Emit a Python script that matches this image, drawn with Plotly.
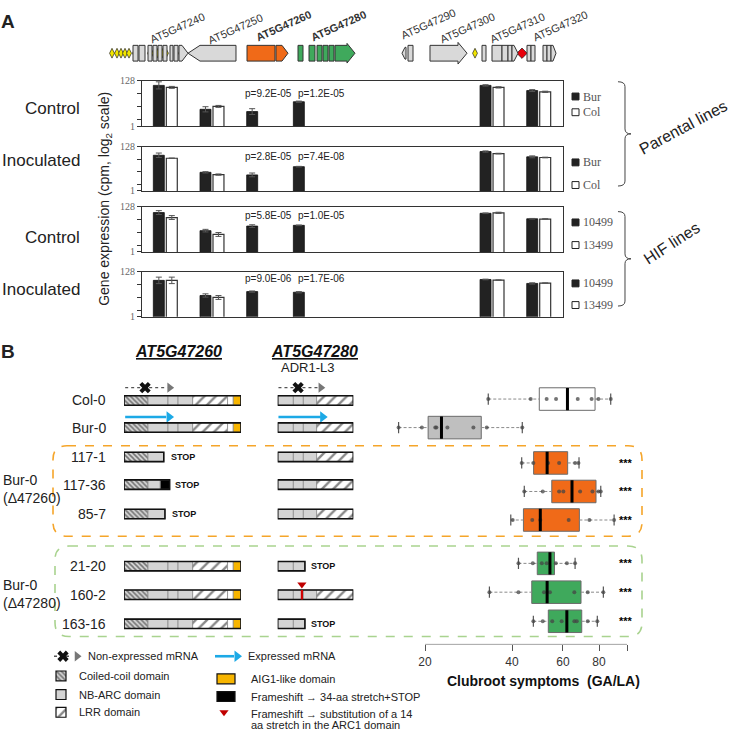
import math
import plotly.graph_objects as go

W, H = 733, 737
def px(x): return x / W
def py(y): return 1 - y / H
def P(s):
    out = []
    for tok in s.split():
        if ',' in tok:
            a, b = tok.split(',')
            out.append(f"{px(float(a)):.5f},{py(float(b)):.5f}")
        else:
            out.append(tok)
    return ' '.join(out)

SANS = "Liberation Sans, Arial, Helvetica, sans-serif"
NARROW = "Liberation Sans Narrow, Arial Narrow, Liberation Sans, Arial, sans-serif"
SERIF = "Liberation Serif, Times New Roman, serif"
ORANGE = "#f06a18"
GREEN = "#3fa95c"
LGREY = "#d9d9d9"
GOLD = "#f7b500"
BLUE = "#1ca9e6"

# ================= Panel A data =================
bar_genes = ["AT5G47240", "AT5G47250", "AT5G47260", "AT5G47280", "AT5G47310", "AT5G47320"]
bar_slot = [1, 2, 3, 4, 8, 9]          # position of each gene along the locus (slot)

par_ctrl_bur = [78, 6.0, 4.7, 13.5, 78, 44.6]
par_ctrl_col = [63, 8.2, None, None, 63, 39]
par_inoc_bur = [50, 7.7, 5.8, 14.3, 75, 42]
par_inoc_col = [36, 6.0, None, None, 60, 39]
hif_ctrl_10499 = [68, 9.8, 16, 17.3, 63, 35]
hif_ctrl_13499 = [40, 6.5, None, None, 66, 34]
hif_inoc_10499 = [50, 9.9, 15, 14, 55, 36]
hif_inoc_13499 = [50, 8.0, None, None, 51, 37]
# standard errors (in log2 units)
par_ctrl_bur_se = [0.55, 0.4, 0.45, 0.1, 0.1, 0.15]
par_ctrl_col_se = [0.15, 0.15, 0, 0, 0.1, 0.1]
par_inoc_bur_se = [0.35, 0.1, 0.3, 0.05, 0.1, 0.15]
par_inoc_col_se = [0.02, 0.1, 0, 0, 0.05, 0.05]
hif_ctrl_10499_se = [0.3, 0.2, 0.2, 0.05, 0.05, 0.05]
hif_ctrl_13499_se = [0.3, 0.3, 0, 0, 0.1, 0.05]
hif_inoc_10499_se = [0.5, 0.25, 0.1, 0.1, 0.05, 0.1]
hif_inoc_13499_se = [0.5, 0.3, 0, 0, 0.05, 0.05]

panel_condition = ["Control", "Inoculated", "Control", "Inoculated"]
panel_lines = [("Bur", "Col"), ("Bur", "Col"), ("10499", "13499"), ("10499", "13499")]
panel_pvalues = [("p=9.2E-05", "p=1.2E-05"), ("p=2.8E-05", "p=7.4E-08"),
                 ("p=5.8E-05", "p=1.0E-05"), ("p=9.0E-06", "p=1.7E-06")]
dark_series = [par_ctrl_bur, par_inoc_bur, hif_ctrl_10499, hif_inoc_10499]
light_series = [par_ctrl_col, par_inoc_col, hif_ctrl_13499, hif_inoc_13499]
dark_se = [par_ctrl_bur_se, par_inoc_bur_se, hif_ctrl_10499_se, hif_inoc_10499_se]
light_se = [par_ctrl_col_se, par_inoc_col_se, hif_ctrl_13499_se, hif_inoc_13499_se]
y_ticks = [1, 128]
y_minor_ticks = [2, 8, 32]

# ================= Panel B data =================
lines_B = ["Col-0", "Bur-0", "117-1", "117-36", "85-7", "21-20", "160-2", "163-16"]
gene_row = [0, 0.95, 1.98, 2.95, 3.98, 5.81, 6.81, 7.83]
box_row = [-0.05, 0.95, 2.19, 3.19, 4.19, 5.71, 6.72, 7.74]
box_min = [33.1, 16.2, 43.2, 44.1, 39.6, 42.1, 33.4, 47.4]
box_q1 = [49.7, 20.5, 47.5, 54.9, 43.8, 48.9, 46.8, 53.4]
box_med = [62.2, 22.8, 52.9, 64.5, 50.1, 54.1, 52.9, 61.9]
box_q3 = [77.5, 31.3, 62.3, 78.1, 68.4, 56.1, 69.3, 69.7]
box_max = [87.8, 43.4, 68.2, 81.1, 90.2, 66.1, 82.8, 78.9]
pts_col0 = [33.1, 46.4, 52.7, 56.8, 67.5, 75.4, 79.6, 87.8]
pts_bur0 = [16.2, 19.5, 21.7, 21.9, 23.9, 29.4, 32.7, 43.4]
pts_117_1 = [43.2, 47.4, 53.3, 58.2, 66.1, 67.9]
pts_117_36 = [44.1, 51.1, 58.2, 60.2, 68.8, 75.9, 79.6, 81.1]
pts_85_7 = [40.2, 47.0, 50.1, 62.8, 74.1, 90.2]
pts_21_20 = [42.1, 47.2, 50.7, 52.7, 56.7, 61.9, 66.1]
pts_160_2 = [33.4, 42.1, 51.6, 54.1, 65.7, 73.1, 82.8]
pts_163_16 = [47.4, 51.1, 55.1, 59.4, 65.7, 67.0, 73.1, 78.9]
box_points = [pts_col0, pts_bur0, pts_117_1, pts_117_36, pts_85_7, pts_21_20, pts_160_2, pts_163_16]
box_fill = ["#ffffff", "#bfbfbf", ORANGE, ORANGE, ORANGE, GREEN, GREEN, GREEN]
signif = ["", "", "***", "***", "***", "***", "***", "***"]
box_ticks = [20, 40, 60, 80]
box_axis_end = 100

# protein domain structures (fraction of full-length protein)
dom260_full = [(0, 0.205, "cc"), (0.205, 0.376, "nb"), (0.376, 0.462, "nb"), (0.462, 0.587, "nb"),
               (0.587, 0.885, "lrr"), (0.885, 0.934, "linker"), (0.934, 1.0, "aig")]
dom260_117_1 = [(0, 0.205, "cc"), (0.205, 0.34, "nb")]
dom260_117_36 = [(0, 0.205, "cc"), (0.205, 0.31, "nb"), (0.31, 0.39, "fs")]
dom260_85_7 = [(0, 0.205, "cc"), (0.205, 0.35, "nb")]
dom280_full = [(0, 0.207, "nb"), (0.207, 0.339, "nb"), (0.339, 0.515, "nb"), (0.515, 1.0, "lrr")]
dom280_trunc = [(0, 0.207, "nb"), (0.207, 0.36, "nb")]
prot260 = [dom260_full, dom260_full, dom260_117_1, dom260_117_36, dom260_85_7, dom260_full, dom260_full, dom260_full]
prot280 = [dom280_full, dom280_full, dom280_full, dom280_full, dom280_full, dom280_trunc, dom280_full, dom280_trunc]
stop260 = [None, None, 0.385, 0.42, 0.39, None, None, None]
stop280 = [None, None, None, None, None, 0.41, None, 0.41]
subst280_row, subst280_pos = 6, 0.32

# gene map of the locus (positions in figure scale)
gm_rects = [(133, 138, LGREY), (139, 145, LGREY), (148, 152, LGREY), (153, 157, LGREY), (158, 162, LGREY),
            (163, 167, LGREY), (170, 173, LGREY), (174, 178, LGREY), (247, 275, ORANGE),
            (298, 303, GREEN), (309, 315, GREEN), (317, 322, GREEN), (323, 328, GREEN), (329, 334, GREEN),
            (408, 413, LGREY), (482, 486, LGREY), (492, 502, LGREY), (502, 508, LGREY), (508, 512, LGREY),
            (527, 531, LGREY), (531, 535, LGREY), (543, 547, LGREY), (547, 551, LGREY)]
gm_arrows = [(179, 182, 188, 8, LGREY), (236, 200, 188, 8, LGREY), (276, 282, 288, 8, ORANGE),
             (335, 347, 355, 10, GREEN), (406, 405, 402, 6, LGREY), (430, 458, 467, 11, LGREY),
             (512, 514, 518, 8, LGREY), (551, 553, 556, 8, LGREY)]
gm_snp_yellow = [112, 117, 121, 125, 129, 135, 150, 154, 158, 162, 166, 181, 208, 211, 214, 217, 220, 229, 252, 475]
gm_snp_red = [442, 522]
gm_labels = [("AT5G47240", 177, 22, False), ("AT5G47250", 235, 23, False), ("AT5G47260", 283, 20, True),
             ("AT5G47280", 338, 20, True), ("AT5G47290", 428, 18, False), ("AT5G47300", 467, 22, False),
             ("AT5G47310", 517, 22, False), ("AT5G47320", 560, 20, False)]

fig = go.Figure()
layout = {}
shapes = []
ann = []

def A(text, x, y, size=12, color="#222", xanchor="center", yanchor="middle", family=SANS,
      angle=0, xref="paper", yref="paper", **kw):
    ann.append(dict(text=text, x=x, y=y, xref=xref, yref=yref, showarrow=False, xanchor=xanchor,
                    yanchor=yanchor, textangle=angle, font=dict(family=family, size=size, color=color), **kw))

# ---------------- Panel A bars ----------------
panel_top = [76, 143, 204, 270]
panel_bot = [122, 188, 250, 316]
cond_y = [104, 157, 235, 288]
pv_y = [89, 153, 213, 277]
leg_y = [(92, 108), (159, 182), (220, 243), (282, 304)]

def errs(vals, se):
    up = [0 if v is None else v * (2 ** e - 1) for v, e in zip(vals, se)]
    dn = [0 if v is None else v * (1 - 2 ** -e) for v, e in zip(vals, se)]
    return up, dn

for i in range(4):
    sfx = "" if i == 0 else str(i + 1)
    xa, ya = "x" + sfx, "y" + sfx
    for vals, se, off, col, lc, lw in [(dark_series[i], dark_se[i], -0.257, "#222222", "#111111", 0.8),
                                       (light_series[i], light_se[i], 0.021, "#ffffff", "#333333", 1.2)]:
        up, dn = errs(vals, se)
        fig.add_trace(go.Bar(x=bar_slot, y=vals, width=0.235, offset=off,
                             marker=dict(color=col, line=dict(color=lc, width=lw)),
                             error_y=dict(type="data", symmetric=False, array=up, arrayminus=dn,
                                          color="#555", thickness=1, width=3),
                             xaxis=xa, yaxis=ya, hoverinfo="skip"))
    layout["xaxis" + sfx] = dict(domain=[px(142), px(563)], range=[0.5, 9.52], showline=True, mirror=True,
                                 linecolor="#333", linewidth=1, showticklabels=False, ticks="", showgrid=False,
                                 zeroline=False, anchor=ya, fixedrange=True)
    layout["yaxis" + sfx] = dict(domain=[py(panel_bot[i]), py(panel_top[i])], type="log",
                                 range=[0, math.log10(128)], tickvals=y_ticks,
                                 ticks="outside", ticklen=4, tickcolor="#333", showline=True, mirror=True,
                                 minor=dict(tickvals=y_minor_ticks, ticks="outside", ticklen=4, tickcolor="#333",
                                            showgrid=False),
                                 linecolor="#333", linewidth=1, showgrid=False, zeroline=False, anchor=xa,
                                 tickfont=dict(family=SERIF, size=10, color="#666"))
    A(panel_condition[i], px(82), py(cond_y[i]), size=17, xanchor="right")
    A(panel_pvalues[i][0], px(268), py(pv_y[i]), size=10)
    A(panel_pvalues[i][1], px(321), py(pv_y[i]), size=10)
    for j, (fill, lab) in enumerate([("#222", panel_lines[i][0]), ("#fff", panel_lines[i][1])]):
        yy = leg_y[i][j]
        shapes.append(dict(type="rect", xref="paper", yref="paper", x0=px(572), x1=px(579),
                           y0=py(yy + 3.5), y1=py(yy - 3.5), fillcolor=fill, line=dict(color="#222", width=1)))
        A(lab, px(581), py(yy), size=12, family=SERIF, color="#555", xanchor="left")

A("Gene expression (cpm, log<sub>2</sub> scale)", px(105), py(196), size=14, angle=-90)
A("<b>A</b>", px(8), py(16), size=19)
A("<b>B</b>", px(8), py(351), size=19)
A("Parental lines", px(683), py(124), size=16, angle=-28)
A("HIF lines", px(671), py(241), size=16, angle=-33)
shapes.append(dict(type="path", xref="paper", yref="paper", line=dict(color="#444", width=1),
                   path=P("M 618,77 Q 625,77 625,82 L 625,125 Q 625,130 631,130 Q 625,130 625,135 L 625,178 Q 625,183 618,183")))
shapes.append(dict(type="path", xref="paper", yref="paper", line=dict(color="#444", width=1),
                   path=P("M 618,209 Q 625,209 625,214 L 625,252 Q 625,257 631,257 Q 625,257 625,262 L 625,300 Q 625,305 618,305")))

# ---------------- gene map ----------------
GY = 48
for x0, x1, c in gm_rects:
    shapes.append(dict(type="rect", xref="paper", yref="paper", x0=px(x0), x1=px(x1), y0=py(GY + 8),
                       y1=py(GY - 8), fillcolor=c, line=dict(color="#333", width=1)))
for xs, xn, xt, hh, c in gm_arrows:
    bh = 8 if hh >= 8 else 6
    path = (f"M {xs},{GY-bh} L {xn},{GY-bh} L {xn},{GY-hh} L {xt},{GY} L {xn},{GY+hh} "
            f"L {xn},{GY+bh} L {xs},{GY+bh} Z")
    shapes.append(dict(type="path", xref="paper", yref="paper", path=P(path), fillcolor=c,
                       line=dict(color="#333", width=1)))
for name, x, y, bold in gm_labels:
    A(f"<b>{name}</b>" if bold else name, px(x), py(y), size=11, color="#333", angle=-24)

# overlay axis (figure scale) for symbols
layout["xaxis8"] = dict(domain=[0, 1], range=[0, W], visible=False, anchor="y8", fixedrange=True)
layout["yaxis8"] = dict(domain=[0, 1], range=[H, 0], visible=False, anchor="x8", fixedrange=True)

# ---------------- Panel B: protein structures ----------------
layout["yaxis5"] = dict(domain=[py(649), py(375)], range=[8.552, -0.897], visible=False, anchor="x5", fixedrange=True)
layout["xaxis5"] = dict(domain=[px(124), px(241)], range=[0, 1], visible=False, anchor="y5", fixedrange=True)
layout["xaxis6"] = dict(domain=[px(277.7), px(353.3)], range=[0, 1], visible=False, anchor="y5", fixedrange=True)

styles = {
    "cc": dict(color="#d6d6d6", pattern=dict(shape="\\", fgcolor="#111", bgcolor="#d6d6d6", size=3.5, solidity=0.45)),
    "nb": dict(color="#d4d4d4"),
    "lrr": dict(color="#ffffff", pattern=dict(shape="/", fgcolor="#111", bgcolor="#ffffff", size=8, solidity=0.3)),
    "linker": dict(color="#ffffff"),
    "aig": dict(color=GOLD),
    "fs": dict(color="#000000"),
}
TH = 0.33
for prots, xa in [(prot260, "x5"), (prot280, "x6")]:
    for kind, st in styles.items():
        ys, bs, ls = [], [], []
        for k, segs in enumerate(prots):
            for s0, s1, kd in segs:
                if kd == kind:
                    ys.append(gene_row[k]); bs.append(s0); ls.append(s1 - s0)
        if ys:
            fig.add_trace(go.Bar(orientation="h", y=ys, x=ls, base=bs, width=TH,
                                 marker=dict(line=dict(color="#8c8c8c", width=0.8), **st),
                                 xaxis=xa, yaxis="y5", hoverinfo="skip"))
    for k, segs in enumerate(prots):
        end = max(s[1] for s in segs)
        shapes.append(dict(type="rect", xref=xa, yref="y5", x0=0, x1=end, y0=gene_row[k] - TH / 2,
                           y1=gene_row[k] + TH / 2, line=dict(color="#111", width=1.6)))

for k in range(8):
    if stop260[k] is not None:
        A("<b>STOP</b>", stop260[k], gene_row[k], size=9, xanchor="left", xref="x5", yref="y5", color="#111")
    if stop280[k] is not None:
        A("<b>STOP</b>", stop280[k], gene_row[k], size=9, xanchor="left", xref="x6", yref="y5", color="#111")
    A(lines_B[k], px(108), gene_row[k], size=14, xanchor="right", yref="y5")

# substitution mark
shapes.append(dict(type="line", xref="x6", yref="y5", x0=subst280_pos, x1=subst280_pos,
                   y0=gene_row[subst280_row] - TH / 2, y1=gene_row[subst280_row] + TH / 2,
                   line=dict(color="#d00000", width=2.2)))
fig.add_trace(go.Scatter(x=[subst280_pos], y=[gene_row[subst280_row] - 0.36], mode="markers",
                         marker=dict(symbol="triangle-down", size=8, color="#c00000"),
                         xaxis="x6", yaxis="y5", hoverinfo="skip"))

# mRNA expression arrows
for xa, end, xpos, tri in [("x5", 0.37, 0.18, 0.39), ("x6", 0.53, 0.27, 0.57)]:
    yy = gene_row[0] - 0.45
    fig.add_trace(go.Scatter(x=[0.01, end], y=[yy, yy], mode="lines", line=dict(color="#555", width=1.3, dash="dot"),
                             xaxis=xa, yaxis="y5", hoverinfo="skip"))
    fig.add_trace(go.Scatter(x=[tri], y=[yy], mode="markers", marker=dict(symbol="triangle-right", size=9, color="#777"),
                             xaxis=xa, yaxis="y5", hoverinfo="skip"))
    fig.add_trace(go.Scatter(x=[xpos], y=[yy], mode="markers", marker=dict(symbol="x", size=10, color="#111"),
                             xaxis=xa, yaxis="y5", hoverinfo="skip"))
for xa, end in [("x5", 0.42), ("x6", 0.63)]:
    yy = gene_row[1] - 0.37
    fig.add_trace(go.Scatter(x=[0.01, end - 0.06], y=[yy, yy], mode="lines", line=dict(color=BLUE, width=2.6),
                             xaxis=xa, yaxis="y5", hoverinfo="skip"))
    fig.add_trace(go.Scatter(x=[end - 0.035], y=[yy], mode="markers",
                             marker=dict(symbol="triangle-right", size=10, color=BLUE),
                             xaxis=xa, yaxis="y5", hoverinfo="skip"))

A("<b><i><u>AT5G47260</u></i></b>", px(178), py(351), size=16, color="#111")
A("<b><i><u>AT5G47280</u></i></b>", px(314), py(351), size=16, color="#111")
A("ADR1-L3", px(279), py(367), size=13, xanchor="left")
A("Bur-0<br>(Δ47260)", px(1), py(491), size=14, xanchor="left", align="left")
A("Bur-0<br>(Δ47280)", px(1), py(597.5), size=14, xanchor="left", align="left")

def rrect(x0, y0, x1, y1, r):
    return P(f"M {x0+r},{y0} L {x1-r},{y0} Q {x1},{y0} {x1},{y0+r} L {x1},{y1-r} Q {x1},{y1} {x1-r},{y1} "
             f"L {x0+r},{y1} Q {x0},{y1} {x0},{y1-r} L {x0},{y0+r} Q {x0},{y0} {x0+r},{y0} Z")
shapes.append(dict(type="path", xref="paper", yref="paper", path=rrect(53, 447, 642, 539, 14),
                   line=dict(color="#f5a52a", width=1.6, dash="dash"), layer="below"))
shapes.append(dict(type="path", xref="paper", yref="paper", path=rrect(55, 549, 642, 641, 14),
                   line=dict(color="#a9d38f", width=1.6, dash="dash"), layer="below"))

# ---------------- Panel B: box plots ----------------
layout["xaxis7"] = dict(domain=[px(360), px(660)], type="log", range=[1.076, 2.114], anchor="y5",
                        tickvals=box_ticks, ticks="outside", ticklen=6, tickcolor="#555",
                        minor=dict(tickvals=[box_axis_end], ticks="outside", ticklen=6, tickcolor="#555", showgrid=False),
                        showline=False, showgrid=False, zeroline=False, fixedrange=True,
                        tickfont=dict(size=12, color="#333"))
for k in range(8):
    fig.add_trace(go.Box(y=[box_row[k]], q1=[box_q1[k]], median=[box_med[k]], q3=[box_q3[k]],
                         lowerfence=[box_q1[k]], upperfence=[box_q3[k]], orientation="h", width=0.79,
                         fillcolor=box_fill[k], line=dict(color="#6b6b6b", width=1), whiskerwidth=0,
                         boxpoints=False, xaxis="x7", yaxis="y5", hoverinfo="skip"))
wx, wy, cx, cy, mx, my, ptx, pty = [], [], [], [], [], [], [], []
for k in range(8):
    r = box_row[k]
    wx += [box_min[k], box_q1[k], None, box_q3[k], box_max[k], None]
    wy += [r, r, None, r, r, None]
    cx += [box_min[k], box_max[k]]; cy += [r, r]
    mx += [box_med[k], box_med[k], None]; my += [r - 0.39, r + 0.39, None]
    ptx += box_points[k]; pty += [r] * len(box_points[k])
    if signif[k]:
        A("<b>" + signif[k] + "</b>", px(626), r, size=11, yref="y5", color="#000")
fig.add_trace(go.Scatter(x=wx, y=wy, mode="lines", line=dict(color="#8a8a8a", width=1, dash="3px,2px"),
                         xaxis="x7", yaxis="y5", hoverinfo="skip"))
fig.add_trace(go.Scatter(x=cx, y=cy, mode="markers", marker=dict(symbol="line-ns", size=8,
                         line=dict(color="#555", width=1.2)), xaxis="x7", yaxis="y5", hoverinfo="skip"))
fig.add_trace(go.Scatter(x=ptx, y=pty, mode="markers", marker=dict(size=4, color="rgba(70,70,70,0.75)"),
                         xaxis="x7", yaxis="y5", hoverinfo="skip"))
fig.add_trace(go.Scatter(x=mx, y=my, mode="lines", line=dict(color="#000", width=3),
                         xaxis="x7", yaxis="y5", hoverinfo="skip"))
fig.add_trace(go.Scatter(x=[box_ticks[0], box_axis_end], y=[8.552, 8.552], mode="lines",
                         line=dict(color="#555", width=1), cliponaxis=False,
                         xaxis="x7", yaxis="y5", hoverinfo="skip"))
A("<b>Clubroot symptoms  (GA/LA)</b>", px(543), py(686), size=14, color="#111")

# ---------------- gene map symbols & legend on overlay axis ----------------
fig.add_trace(go.Scatter(x=gm_snp_yellow, y=[GY] * len(gm_snp_yellow), mode="markers",
                         marker=dict(symbol="diamond-tall", size=7, color="#f2e600", line=dict(color="#222", width=0.7)),
                         xaxis="x8", yaxis="y8", hoverinfo="skip"))
fig.add_trace(go.Scatter(x=gm_snp_red, y=[GY] * len(gm_snp_red), mode="markers",
                         marker=dict(symbol="diamond", size=8, color="#e8000b", line=dict(color="#222", width=0.7)),
                         xaxis="x8", yaxis="y8", hoverinfo="skip"))

# legend icons
fig.add_trace(go.Scatter(x=[54, 72], y=[661, 661], mode="lines", line=dict(color="#555", width=1.3, dash="dot"),
                         xaxis="x8", yaxis="y8", hoverinfo="skip"))
fig.add_trace(go.Scatter(x=[77], y=[661], mode="markers", marker=dict(symbol="triangle-right", size=9, color="#777"),
                         xaxis="x8", yaxis="y8", hoverinfo="skip"))
fig.add_trace(go.Scatter(x=[63], y=[661], mode="markers", marker=dict(symbol="x", size=10, color="#111"),
                         xaxis="x8", yaxis="y8", hoverinfo="skip"))
fig.add_trace(go.Scatter(x=[215, 234], y=[661, 661], mode="lines", line=dict(color=BLUE, width=2.6),
                         xaxis="x8", yaxis="y8", hoverinfo="skip"))
fig.add_trace(go.Scatter(x=[237], y=[661], mode="markers", marker=dict(symbol="triangle-right", size=10, color=BLUE),
                         xaxis="x8", yaxis="y8", hoverinfo="skip"))
for yy, kind in [(681, "cc"), (700, "nb"), (718, "lrr")]:
    fig.add_trace(go.Bar(orientation="h", y=[yy], x=[10], base=[56], width=10,
                         marker=dict(line=dict(color="#111", width=1.2), **styles[kind]),
                         xaxis="x8", yaxis="y8", hoverinfo="skip"))
for yy, c in [(684, GOLD), (702, "#000")]:
    shapes.append(dict(type="rect", xref="paper", yref="paper", x0=px(217), x1=px(235), y0=py(yy + 5),
                       y1=py(yy - 5), fillcolor=c, line=dict(color="#111", width=1.2)))
fig.add_trace(go.Scatter(x=[224], y=[718], mode="markers", marker=dict(symbol="triangle-down", size=8, color="#c00000"),
                         xaxis="x8", yaxis="y8", hoverinfo="skip"))
LF = 11
A("Non-expressed mRNA", px(86), py(661), size=LF, xanchor="left", family=NARROW)
A("Expressed mRNA", px(246), py(661), size=LF, xanchor="left", family=NARROW)
A("Coiled-coil domain", px(77), py(681), size=LF, xanchor="left", family=NARROW)
A("NB-ARC domain", px(77), py(700), size=LF, xanchor="left", family=NARROW)
A("LRR domain", px(77), py(718), size=LF, xanchor="left", family=NARROW)
A("AIG1-like domain", px(249), py(684), size=LF, xanchor="left", family=NARROW)
A("Frameshift → 34-aa stretch+STOP", px(249), py(702), size=LF, xanchor="left", family=NARROW)
A("Frameshift → substitution of a 14", px(249), py(720), size=LF, xanchor="left", family=NARROW)
A("aa stretch in the ARC1 domain", px(249), py(731), size=LF, xanchor="left", family=NARROW)

fig.update_layout(width=W, height=H, margin=dict(l=0, r=0, t=0, b=0), paper_bgcolor="white",
                  plot_bgcolor="rgba(0,0,0,0)", showlegend=False, barmode="overlay",
                  font=dict(family=SANS, color="#222"), shapes=shapes, annotations=ann, **layout)
fig.write_html("out.html", config={"displayModeBar": False},
               post_script="document.body.style.margin='0px';document.body.style.overflow='hidden';")
